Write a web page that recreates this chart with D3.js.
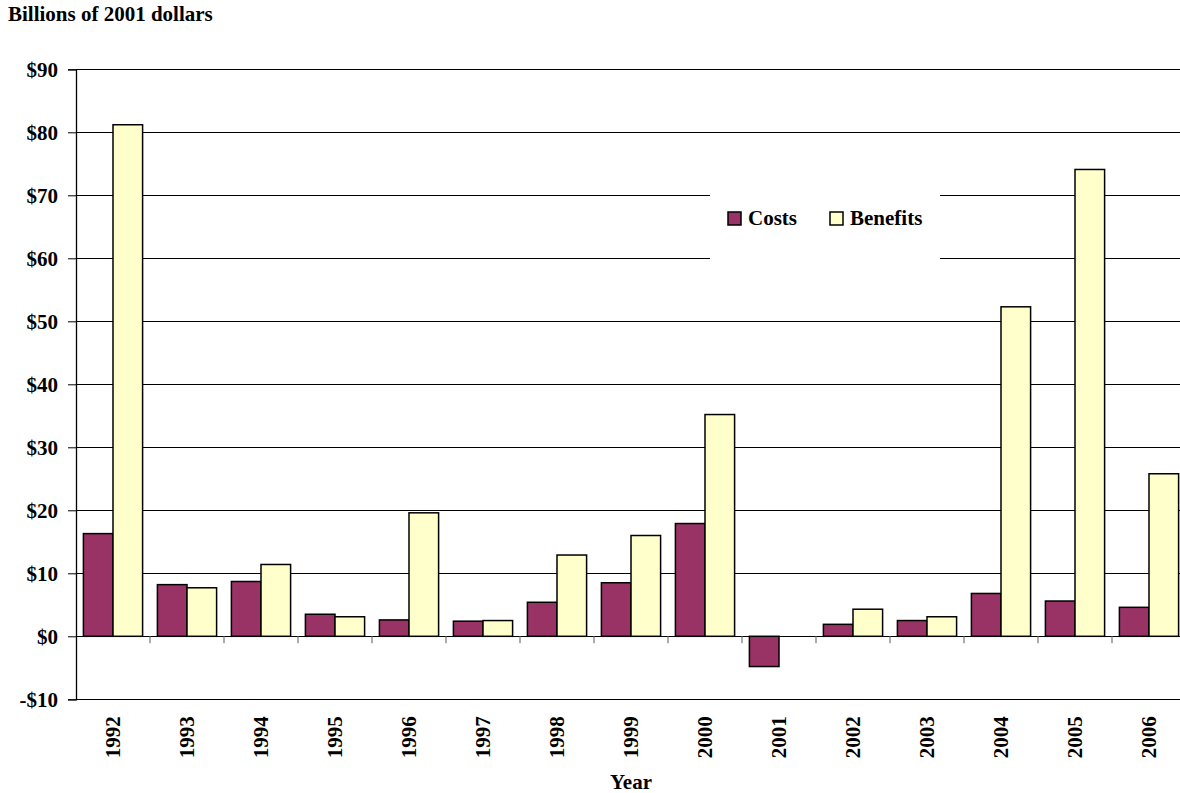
<!DOCTYPE html>
<html>
<head>
<meta charset="utf-8">
<script src="https://cdn.jsdelivr.net/npm/d3@7"></script>
<style>
  body { margin: 0; background: #fff; }
  text { font-family: "Liberation Serif", "Times New Roman", serif; font-weight: bold; fill: #000; }
  .grid line { stroke: #000; stroke-width: 1; shape-rendering: crispEdges; }
  .bar { stroke: #000; stroke-width: 1.5; }
</style>
</head>
<body>
<svg id="chart"></svg>
<script>
'use strict'

// data
const years = ["1992", "1993", "1994", "1995", "1996", "1997", "1998", "1999", "2000", "2001", "2002", "2003", "2004", "2005", "2006"]
const costs = [16.3, 8.2, 8.7, 3.5, 2.6, 2.4, 5.4, 8.5, 17.9, -4.8, 1.9, 2.5, 6.8, 5.6, 4.6]
const benefits = [81.2, 7.7, 11.4, 3.1, 19.6, 2.5, 12.9, 16.0, 35.2, 0, 4.3, 3.1, 52.3, 74.1, 25.8]
const seriesNames = ["Costs", "Benefits"]
const seriesColors = ["#993366", "#ffffcc"]
const yTicks = [-10, 0, 10, 20, 30, 40, 50, 60, 70, 80, 90]

const width = 1180
const height = 793
const margins = {top: 69.3, right: -6, bottom: 93.7, left: 76}
const chartWidth = width - margins.left - margins.right
const chartHeight = height - margins.top - margins.bottom
const fontSize = "21px"

const svg = d3.select('#chart')
  .attr("width", width)
  .attr("height", height)

const g = svg.append("g")
  .attr("transform", "translate(" + margins.left + "," + margins.top + ")")

// scales
const x = d3.scaleBand().domain(years).range([0, chartWidth]).padding(0)
const xs = d3.scaleBand().domain(seriesNames)
  .range([x.bandwidth() * 0.1, x.bandwidth() * 0.9]).padding(0)
const y = d3.scaleLinear().domain([-10, 90]).range([chartHeight, 0])

const fmt = v => (v < 0 ? "-$" : "$") + Math.abs(v)

// gridlines
g.append("g")
  .attr("class", "grid")
  .call(d3.axisLeft(y).tickValues(yTicks).tickSize(-chartWidth).tickFormat(""))
  .call(sel => sel.select(".domain").remove())

// legend box hides the gridlines behind it
const legend = g.append("g")
  .attr("transform", "translate(" + (710 - margins.left) + "," + (170 - margins.top) + ")")
legend.append("rect")
  .attr("width", 230).attr("height", 100).attr("fill", "#fff")

// bars
const rows = years.map((yr, i) => ({year: yr, values: [costs[i], benefits[i]]}))
const groups = g.selectAll(".year")
  .data(rows)
  .enter().append("g")
  .attr("class", "year")
  .attr("transform", d => "translate(" + x(d.year) + ",0)")

groups.selectAll("rect")
  .data(d => d.values.map((v, k) => ({name: seriesNames[k], value: v, color: seriesColors[k]})))
  .enter().append("rect")
  .filter(d => d.value !== 0)
  .attr("class", "bar")
  .attr("x", d => xs(d.name))
  .attr("width", xs.bandwidth())
  .attr("y", d => y(Math.max(0, d.value)))
  .attr("height", d => Math.abs(y(d.value) - y(0)))
  .attr("fill", d => d.color)

// zero line with category ticks
const xAxis = g.append("g")
  .attr("transform", "translate(0," + y(0) + ")")
xAxis.append("line")
  .attr("x1", 0).attr("x2", chartWidth)
  .attr("stroke", "#000").attr("shape-rendering", "crispEdges")
xAxis.selectAll(".tickmark")
  .data(years.slice(1))
  .enter().append("line")
  .attr("class", "tickmark")
  .attr("x1", d => x(d)).attr("x2", d => x(d))
  .attr("y1", 0).attr("y2", 7)
  .attr("stroke", "#777").attr("stroke-width", 1.2)

// y axis
const yAxis = g.append("g")
  .call(d3.axisLeft(y).tickValues(yTicks).tickSize(8).tickPadding(10).tickFormat(fmt))
yAxis.select(".domain").attr("stroke", "#000").attr("stroke-width", 1.3)
yAxis.selectAll(".tick line").attr("stroke", "#000")
yAxis.selectAll(".tick text")
  .style("font-size", fontSize)
  .style("font-family", "'Liberation Serif', 'Times New Roman', serif")
  .style("font-weight", "bold")
  .attr("dy", "0.34em")

// x labels, rotated
g.selectAll(".xlabel")
  .data(years)
  .enter().append("text")
  .attr("class", "xlabel")
  .attr("transform", d => "translate(" + (x(d) + x.bandwidth() / 2) + "," + (chartHeight + 17) + ") rotate(-90)")
  .attr("text-anchor", "end")
  .attr("dy", "0.34em")
  .style("font-size", fontSize)
  .text(d => d)

// axis titles
svg.append("text")
  .attr("x", margins.left + (1186 - margins.left) / 2)
  .attr("y", 789)
  .attr("text-anchor", "middle")
  .style("font-size", fontSize)
  .text("Year")

svg.append("text")
  .attr("x", 8)
  .attr("y", 21)
  .style("font-size", fontSize)
  .text("Billions of 2001 dollars")

// legend items
const items = legend.selectAll(".item")
  .data(seriesNames)
  .enter().append("g")
  .attr("class", "item")
  .attr("transform", (d, i) => "translate(" + (i === 0 ? 18 : 120) + ",42)")
items.append("rect")
  .attr("width", 13).attr("height", 13)
  .attr("fill", (d, i) => seriesColors[i])
  .attr("stroke", "#000").attr("stroke-width", 1.5)
items.append("text")
  .attr("x", 20).attr("y", 13)
  .style("font-size", fontSize)
  .text(d => d)
</script>
</body>
</html>
